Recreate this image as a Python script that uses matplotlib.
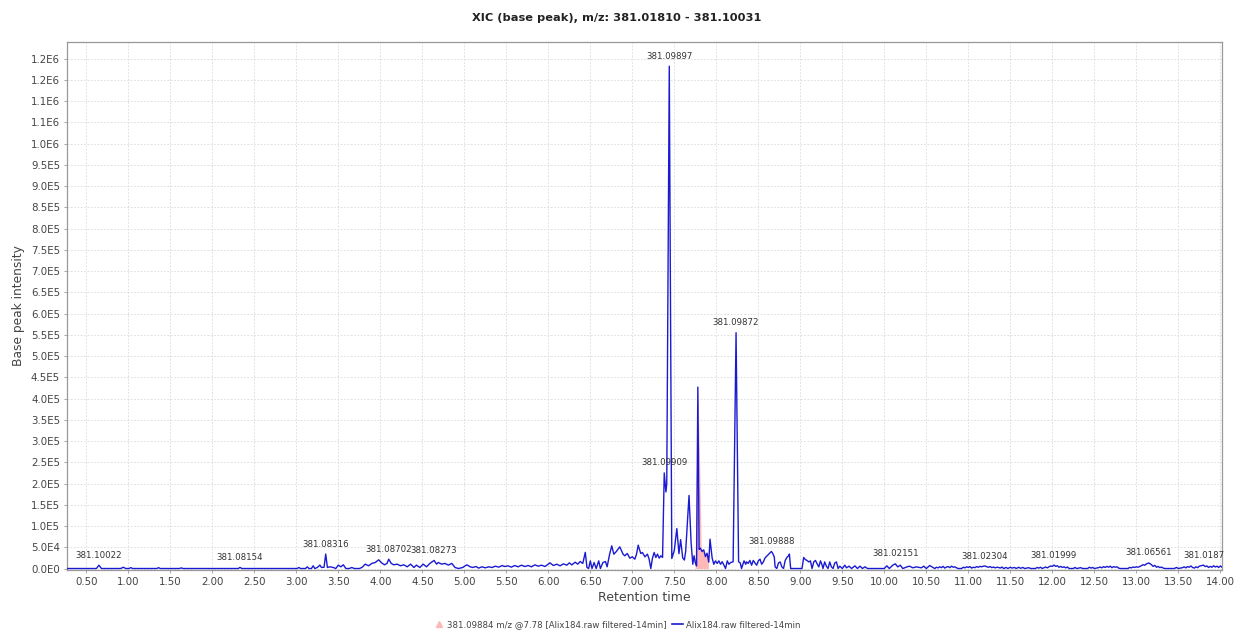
import matplotlib
matplotlib.use("Agg")
import matplotlib.pyplot as plt
from matplotlib.ticker import MultipleLocator, FuncFormatter
from matplotlib.lines import Line2D
from decimal import Decimal, ROUND_HALF_UP
import numpy as np

# retention time (min) / base peak intensity, read region by region
rt_early = [0.27, 0.62, 0.65, 0.68, 0.91, 0.94, 0.97, 1.01, 1.03, 1.05, 1.34, 1.36, 1.38,
            1.61, 1.63, 1.65, 2.31, 2.33, 2.35, 3.00]
int_early = [0, 0, 7800, 0, 0, 3000, 0, 0, 2200, 0, 0, 2000, 0,
             0, 1500, 0, 0, 2600, 0, 0]

rt_mid = [3.01, 3.03, 3.05, 3.11, 3.13, 3.15, 3.18, 3.20, 3.22, 3.25, 3.28, 3.30, 3.33,
          3.35, 3.37, 3.40, 3.44, 3.47, 3.50, 3.53, 3.56, 3.59, 3.63, 3.66, 3.69, 3.75,
          3.78, 3.80, 3.82, 3.86, 3.90, 3.94, 3.98, 4.02, 4.05, 4.08, 4.10, 4.13, 4.16,
          4.20, 4.24, 4.28, 4.32, 4.36, 4.40, 4.43, 4.47, 4.51, 4.55, 4.59, 4.64, 4.67,
          4.69, 4.73, 4.77, 4.81, 4.85, 4.89, 4.93, 4.98, 5.03]
int_mid = [0, 2400, 0, 0, 4000, 0, 0, 6400, 0, 2400, 8000, 2400, 3000,
           34000, 2400, 4000, 2400, 0, 8000, 4000, 8700, 0, 0, 2400, 0, 0,
           2400, 6000, 10300, 6400, 12000, 14200, 20500, 12600, 8700, 12000, 22000, 12000, 8700,
           10300, 6400, 8700, 4000, 10300, 2400, 8000, 2400, 10300, 4000, 12000, 19000, 10300,
           14200, 10300, 12000, 8000, 12000, 2400, 0, 2400, 8700]

rt_rise = [5.07, 5.10, 5.14, 5.17, 5.21, 5.25, 5.29, 5.33, 5.37, 5.41, 5.45, 5.48, 5.52,
           5.56, 5.60, 5.64, 5.68, 5.72, 5.76, 5.80, 5.84, 5.88, 5.92, 5.96, 6.02, 6.06,
           6.10, 6.14, 6.18, 6.22, 6.25, 6.28, 6.32, 6.35, 6.38, 6.41, 6.44, 6.46, 6.48,
           6.50, 6.52, 6.545, 6.57, 6.60, 6.62, 6.65, 6.68, 6.70, 6.73, 6.755, 6.78, 6.81,
           6.83, 6.85, 6.89, 6.91, 6.94, 6.97, 7.00, 7.03, 7.05, 7.07, 7.10, 7.12, 7.15,
           7.18, 7.20, 7.22, 7.24, 7.26, 7.28, 7.30, 7.32, 7.34, 7.36]
int_rise = [4000, 2400, 4700, 900, 4000, 1600, 4000, 2400, 5500, 3200, 7000, 4700, 6300,
            3200, 7000, 4000, 7800, 4700, 7000, 4000, 8600, 5500, 7800, 4700, 13300, 7000,
            10200, 6300, 11000, 7800, 13300, 8600, 14900, 10200, 16500, 11800, 38000, 2400, 0,
            18000, 0, 14000, 0, 18000, 0, 14000, 16500, 4000, 33800, 53400, 33800, 40000,
            45500, 51000, 33800, 29900, 35400, 24400, 27500, 22000, 33800, 55000, 35400, 37700, 27500,
            33800, 22000, 0, 24400, 37700, 26000, 33800, 24400, 29900, 26000]

rt_peaks = [7.38, 7.40, 7.41, 7.44, 7.47, 7.50, 7.53, 7.555, 7.575, 7.60, 7.62, 7.635,
            7.675, 7.70, 7.72, 7.735, 7.75, 7.765, 7.78, 7.795, 7.81, 7.83, 7.85, 7.87,
            7.89, 7.91, 7.925, 7.95, 7.97, 7.99, 8.01, 8.03, 8.05, 8.07, 8.09, 8.11,
            8.13, 8.15, 8.17, 8.20, 8.235, 8.265, 8.285, 8.30, 8.33, 8.35]
int_peaks = [225000, 180000, 200000, 1182000, 23500, 43000, 94000, 35000, 68000, 25000, 20000, 40000,
             172000, 60000, 10000, 30000, 14000, 6000, 427000, 45000, 48000, 40000, 44000, 28000,
             36000, 15000, 69000, 25000, 10000, 18000, 12000, 18000, 10000, 16000, 8000, 0,
             18000, 10000, 14000, 16000, 555000, 16000, 13000, 0, 18000, 10000]

rt_tail = [8.36, 8.38, 8.40, 8.42, 8.44, 8.46, 8.48, 8.50, 8.52, 8.54, 8.56, 8.58, 8.60,
           8.62, 8.655, 8.67, 8.69, 8.70, 8.72, 8.74, 8.76, 8.78, 8.80, 8.82, 8.84, 8.86,
           8.87, 8.885, 9.02, 9.04, 9.06, 9.08, 9.10, 9.12, 9.14, 9.16, 9.18, 9.20, 9.22,
           9.24, 9.26, 9.27, 9.29, 9.31, 9.33, 9.35, 9.37, 9.39, 9.41, 9.43, 9.45, 9.47,
           9.50, 9.53, 9.55, 9.58, 9.61, 9.65, 9.68, 9.71, 9.74, 9.77, 9.80, 10.00, 10.03,
           10.06, 10.10, 10.13, 10.16, 10.19, 10.22, 10.27, 10.30, 10.34, 10.38, 10.44, 10.47,
           10.50, 10.54, 10.58]
int_tail = [15500, 12000, 19000, 7800, 19000, 13000, 7800, 18000, 22000, 10000, 15500, 25000, 29000,
            33000, 40000, 36000, 27000, 3900, 0, 13000, 15500, 3900, 0, 19000, 26000, 30000,
            34000, 0, 0, 26000, 21000, 19000, 15500, 18000, 0, 15500, 19000, 11000, 3900,
            18000, 7800, 0, 15500, 5500, 0, 15500, 3900, 0, 13000, 15500, 0, 5500,
            0, 7800, 1600, 5500, 0, 6300, 0, 5500, 0, 3900, 0, 0, 6300,
            0, 7800, 11000, 3900, 7800, 0, 3900, 5500, 1600, 3900, 1600, 5500,
            0, 7000, 2400]

rt_late = [10.60, 10.62, 10.64, 10.66, 10.68, 10.70, 10.72, 10.74, 10.76, 10.78, 10.80, 10.82,
           10.84, 10.86, 10.88, 10.92, 10.94, 10.96, 10.98, 11.00, 11.02, 11.04, 11.06, 11.08,
           11.10, 11.12, 11.14, 11.16, 11.18, 11.20, 11.22, 11.24, 11.26, 11.28, 11.30, 11.32,
           11.34, 11.36, 11.38, 11.40, 11.42, 11.45, 11.47, 11.50, 11.52, 11.55, 11.57, 11.60,
           11.62, 11.65, 11.67, 11.72, 11.74, 11.80, 11.82, 11.84, 11.86, 11.88, 11.92, 11.94,
           11.96, 11.98, 12.00, 12.02, 12.04, 12.06, 12.08, 12.10, 12.12, 12.14, 12.16, 12.18,
           12.20, 12.25, 12.27, 12.29, 12.34, 12.36, 12.42, 12.44, 12.46, 12.48, 12.50, 12.55,
           12.57, 12.59, 12.61, 12.63, 12.65, 12.67, 12.69, 12.71, 12.73, 12.75, 12.77, 12.79,
           12.81, 12.90, 12.92, 12.94, 12.96, 12.98, 13.00, 13.02, 13.05, 13.08, 13.10, 13.12,
           13.15, 13.18, 13.20, 13.22, 13.24, 13.26, 13.28, 13.30, 13.32, 13.34, 13.45, 13.48,
           13.50, 13.55, 13.57, 13.59, 13.61, 13.63, 13.65, 13.67, 13.69, 13.71, 13.73, 13.75,
           13.77, 13.80, 13.82, 13.84, 13.86, 13.88, 13.90, 13.92, 13.94, 13.96, 13.98, 14.00,
           14.02]
int_late = [0, 3000, 1500, 4000, 2000, 5000, 1000, 3500, 4500, 2000, 5500, 3000,
            4000, 1500, 0, 0, 3000, 1500, 4000, 2500, 4500, 1000, 3000, 2000,
            4500, 3000, 5000, 4000, 5500, 5900, 4000, 3000, 4500, 2000, 3500, 1500,
            3000, 2500, 1000, 3500, 0, 2500, 0, 3000, 1000, 2500, 0, 3000,
            500, 2500, 0, 2000, 0, 0, 2500, 1000, 3000, 0, 3500, 1500,
            4000, 6000, 5000, 8200, 5000, 6500, 3000, 5000, 2500, 4000, 1500, 3500,
            0, 0, 2500, 0, 2000, 0, 0, 3000, 1000, 2500, 0, 2000,
            3500, 1500, 4500, 2500, 5000, 3000, 5500, 2000, 4500, 3000, 4000, 1000,
            0, 0, 2500, 1500, 3500, 2500, 4000, 3000, 5500, 9000, 7500, 11000,
            13000, 9000, 5000, 7500, 3000, 5000, 2000, 3500, 1000, 0, 0, 2500,
            0, 2000, 4000, 1500, 4500, 3000, 6000, 2500, 1000, 4000, 2000, 5500,
            6500, 8000, 4500, 6000, 2500, 5000, 3000, 6500, 3500, 5500, 2500, 6000,
            3000]

# detected feature 381.09884 @ 7.78, drawn as a filled area under the trace
feature_rt = [7.747, 7.75, 7.78, 7.80, 7.82, 7.84, 7.86, 7.88, 7.905]
feature_int = [0, 60000, 427000, 260000, 45000, 40000, 35000, 38000, 30000]

# peak labels (m/z of the base peak) and where they sit
label_rt = [0.65, 2.33, 3.35, 4.10, 4.64, 7.44, 7.38, 8.235, 8.655, 10.13, 11.20, 12.02, 13.15, 13.80]
label_mz = ["381.10022", "381.08154", "381.08316", "381.08702", "381.08273", "381.09897",
            "381.09909", "381.09872", "381.09888", "381.02151", "381.02304", "381.01999",
            "381.06561", "381.0187"]

rt = np.array(rt_early + rt_mid + rt_rise + rt_peaks + rt_tail + rt_late)
intensity = np.array(int_early + int_mid + int_rise + int_peaks + int_tail + int_late, dtype=float)


def sci_label(v, pos):
    v = float(v)
    if abs(v) < 1e-9:
        return "0.0E0"
    e = int(np.floor(np.log10(abs(v)) + 1e-9))
    m = Decimal(str(round(v / 10 ** e, 6))).quantize(Decimal("0.1"), rounding=ROUND_HALF_UP)
    return "%sE%d" % (m, e)


fig = plt.figure(figsize=(12.34, 6.33), dpi=100)
ax = fig.add_axes([67 / 1234, 1 - 570 / 633, (1222 - 67) / 1234, (570 - 42) / 633])

grey = "#444444"
blue = "#1a1ad2"
pink = "#ffb8b8"

ax.fill_between(feature_rt, 0, feature_int, color=pink, lw=0, zorder=2)
ax.plot(rt, intensity, color=blue, lw=1.0, zorder=3)

for t, mz in zip(label_rt, label_mz):
    y = np.interp(t, rt, intensity)
    ann = ax.annotate(mz, (t, y), xytext=(0, 10), textcoords="offset pixels",
                      ha="center", va="center", fontsize=6.2, color="#333333", zorder=4)
    ann.set_clip_on(True)

ax.set_xlim(0.27, 14.02)
ax.set_ylim(-3500, 1.239e6)
ax.xaxis.set_major_locator(MultipleLocator(0.5))
ax.xaxis.set_major_formatter(FuncFormatter(lambda v, p: "%.2f" % v))
ax.yaxis.set_major_locator(MultipleLocator(5e4))
ax.yaxis.set_major_formatter(FuncFormatter(sci_label))

ax.grid(True, color="#d9d9d9", linestyle=(0, (2, 2)), linewidth=0.6)
ax.set_axisbelow(True)
for s in ax.spines.values():
    s.set_color("#999999")
    s.set_linewidth(0.9)
ax.tick_params(axis="both", length=2, width=0.6, color="#999999", labelsize=7.4, labelcolor=grey, pad=3)

ax.set_xlabel("Retention time", fontsize=9, color=grey, labelpad=3)
ax.set_ylabel("Base peak intensity", fontsize=8.8, color=grey, labelpad=4)
fig.text(0.5, 1 - 18 / 633, "XIC (base peak), m/z: 381.01810 - 381.10031", ha="center", va="center",
         fontsize=8.2, fontweight="bold", color="#222222")

handles = [Line2D([], [], color=pink, marker="^", markersize=5, lw=0),
           Line2D([], [], color=blue, lw=1.2)]
fig.legend(handles, ["381.09884 m/z @7.78 [Alix184.raw filtered-14min]", "Alix184.raw filtered-14min"],
           loc="center", bbox_to_anchor=(0.5, 1 - 625 / 633), ncol=2, frameon=False, fontsize=6.2,
           labelcolor=grey, handlelength=1.3, handletextpad=0.3, columnspacing=0.6)

fig.savefig("out.png", dpi=100)
